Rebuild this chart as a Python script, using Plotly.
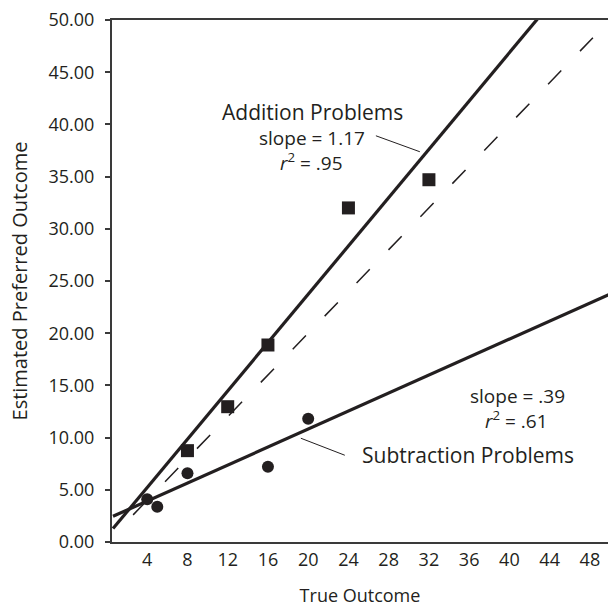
import plotly.graph_objects as go
import numpy as np

# Data
add_x = [8, 12, 16, 24, 32]
add_y = [8.75, 12.96, 18.87, 32.0, 34.7]
sub_x = [4, 5, 8, 16, 20]
sub_y = [4.1, 3.38, 6.58, 7.2, 11.8]

# trend line parameters (slope, intercept) as drawn
add_fit = (1.157, 0.59)
sub_fit = (0.431, 2.20)
fit_x = [0.6, 50]
ident_x = [2.6, 48.3]

x_ticks = [4, 8, 12, 16, 20, 24, 28, 32, 36, 40, 44, 48]
y_ticks = [0, 5, 10, 15, 20, 25, 30, 35, 40, 45, 50]

INK = "#231f20"
FONT = "Open Sans"

fig = go.Figure()

fx = np.array(fit_x)
fig.add_trace(go.Scatter(x=fx, y=add_fit[0] * fx + add_fit[1], mode="lines",
                         line=dict(color=INK, width=3.2), hoverinfo="skip"))
fig.add_trace(go.Scatter(x=fx, y=sub_fit[0] * fx + sub_fit[1], mode="lines",
                         line=dict(color=INK, width=3.2), hoverinfo="skip"))
fig.add_trace(go.Scatter(x=ident_x, y=ident_x, mode="lines",
                         line=dict(color=INK, width=1.5, dash="19px,27px"), hoverinfo="skip"))
fig.add_trace(go.Scatter(x=add_x, y=add_y, mode="markers",
                         marker=dict(symbol="square", size=13, color=INK)))
fig.add_trace(go.Scatter(x=sub_x, y=sub_y, mode="markers",
                         marker=dict(symbol="circle", size=12, color=INK)))

ann = [
    ("Addition Problems", 20.46, 41.18, 21),
    ("slope = 1.17", 20.41, 38.69, 19),
    ("<i>r</i><sup>2</sup> = .95", 20.36, 36.39, 19),
    ("slope = .39", 40.80, 13.96, 19),
    ("<i>r</i><sup>2</sup> = .61", 40.72, 11.66, 19),
    ("Subtraction Problems", 35.88, 8.31, 21),
]
for t, x, y, s in ann:
    fig.add_annotation(x=x, y=y, text=t, showarrow=False, xref="x", yref="y",
                       xanchor="center", yanchor="middle",
                       font=dict(family=FONT, size=s, color=INK))

fig.add_shape(type="line", x0=26.73, y0=38.91, x1=31.10, y1=37.38,
              xref="x", yref="y", line=dict(color=INK, width=1))
fig.add_shape(type="line", x0=19.27, y0=9.94, x1=23.64, y1=8.31,
              xref="x", yref="y", line=dict(color=INK, width=1))

fig.update_layout(
    width=609, height=607, autosize=False,
    margin=dict(l=112, r=1, t=20, b=65),
    paper_bgcolor="white", plot_bgcolor="white",
    showlegend=False,
    font=dict(family=FONT, size=17, color=INK),
    xaxis=dict(range=[0.5, 49.8], tickvals=x_ticks, ticktext=[str(v) for v in x_ticks],
               showgrid=False, zeroline=False, showline=True, linecolor="#3a3a3a",
               linewidth=2, mirror=True, ticks="", ticklen=0,
               tickfont=dict(family=FONT, size=18, color=INK),
               title=dict(text="True Outcome", font=dict(family=FONT, size=18, color=INK),
                          standoff=20)),
    yaxis=dict(range=[0, 50], tickvals=y_ticks, ticktext=[f"{v:.2f}" for v in y_ticks],
               showgrid=False, zeroline=False, showline=True, linecolor="#3a3a3a",
               linewidth=2, ticks="outside", ticklen=5, tickwidth=1.5, tickcolor="#3a3a3a",
               ticklabelstandoff=7,
               tickfont=dict(family=FONT, size=18, color=INK),
               title=dict(text="Estimated Preferred Outcome",
                          font=dict(family=FONT, size=20, color=INK), standoff=15)),
)

fig.write_html("out.html", config={"displayModeBar": False},
               post_script="document.body.style.margin='0';document.body.style.overflow='hidden';")
